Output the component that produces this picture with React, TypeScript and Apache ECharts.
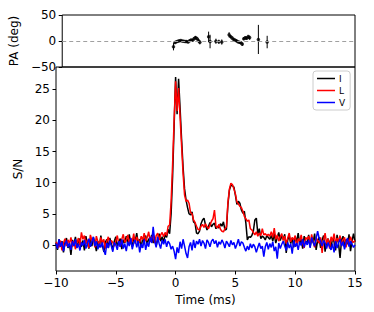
import React, { useEffect, useRef } from "react";
import * as echarts from "echarts";

// Time axis of the S/N profiles (ms)
const T0 = -10;
const DT = 0.125;

// Total intensity I (S/N), one row per ms
const intensityI = [
  0.3, -0.8, 0.9, -0.2, 0.6, -1.2, 0.4, 1.1,
  -0.5, 0.2, -1.6, 0.8, 0.1, 1.3, -0.4, 0.5,
  1.0, -0.3, 0.7, -0.9, 1.4, 0.2, -0.6, 0.9,
  -0.2, 1.2, 0.3, -1.0, 0.6, -0.4, 1.5, 0.0,
  -1.1, 0.4, 0.9, -0.5, 1.1, 0.2, -0.8, 0.6,
  1.3, -0.2, 0.5, 1.0, -0.7, 0.8, 0.3, 1.4,
  0.1, 1.7, 0.4, -0.3, 1.2, 0.6, 1.9, 0.2,
  0.9, -0.4, 1.1, 0.5, 1.5, 0.0, 1.0, 0.7,
  1.6, 0.3, 1.2, -0.2, 0.9, 1.8, 0.6, 1.3,
  0.4, 1.7, 1.2, 2.5, 1.8, 5.0, 11.0, 19.0,
  27.0, 21.0, 26.7, 22.0, 17.0, 12.5, 9.0, 7.2,
  6.0, 5.0, 4.8, 5.3, 3.7, 3.5, 1.9, 1.8,
  2.2, 3.4, 4.0, 4.3, 3.2, 2.4, 3.0, 3.6,
  2.9, 3.3, 3.5, 2.6, 3.0, 2.7, 3.4, 3.0,
  3.7, 2.4, 2.5, 6.5, 8.8, 9.6, 9.5, 9.3,
  8.0, 6.5, 7.0, 6.7, 5.6, 5.1, 5.4, 3.5,
  0.8, 1.3, 1.2, 1.5, 2.2, 4.0, 4.3, 1.8,
  2.6, 1.0, 1.4, 1.2, 0.8, 1.5, 1.2, 0.9,
  1.5, 0.6, 1.8, 0.3, 1.2, 2.0, 0.7, 1.4,
  0.9, 1.7, -1.3, 0.8, 1.5, 0.2, 1.1, -0.4,
  1.3, 0.5, 1.9, 0.1, 0.9, -0.6, 1.4, 0.6,
  0.2, 1.6, -0.3, 1.0, 0.4, 1.8, -0.8, 0.7,
  1.2, -0.5, 0.8, 1.5, -1.1, 0.6, 1.0, 0.3,
  -0.4, 1.1, 0.5, -0.9, 1.6, 0.2, -2.1, 0.8,
  1.4, -0.3, 0.9, 0.1, 1.7, -1.0, 0.6, 1.8,
  0.5,
];

// Linear polarisation L (S/N)
const linearL = [
  0.5, 0.1, -0.4, 0.7, -0.9, 0.3, 1.0, -0.2,
  0.8, 0.2, 1.2, -0.3, 0.6, -0.7, 0.4, 1.1,
  -0.1, 2.0, 0.9, 1.5, 0.2, 0.8, -0.5, 1.6,
  0.7, 1.0, -0.4, 1.4, 0.5, 0.0, 1.2, 0.3,
  0.9, -0.6, 0.6, 1.3, 0.1, 0.7, 0.4, -0.2,
  0.6, 1.5, 0.2, -0.3, 0.9, 1.7, 0.4, 0.8,
  1.6, 0.3, 1.1, 0.5, 1.8, 0.2, 1.3, 0.7,
  0.4, 1.4, 0.8, 1.9, 0.6, 1.2, 2.1, 0.5,
  1.1, 1.7, 0.3, 1.5, 1.9, 0.8, 1.6, 2.0,
  1.3, 2.0, 1.5, 3.0, 3.2, 7.0, 13.0, 20.0,
  26.3, 21.5, 25.2, 20.5, 16.0, 11.5, 8.0, 7.0,
  7.2, 6.7, 5.2, 5.0, 4.0, 3.6, 3.0, 2.5,
  2.4, 3.0, 3.3, 2.8, 3.4, 2.9, 2.6, 3.2,
  3.8, 4.2, 5.6, 3.0, 2.7, 3.3, 2.5, 2.2,
  2.1, 2.6, 2.9, 6.8, 9.0, 9.9, 9.7, 9.0,
  8.2, 6.9, 6.6, 6.2, 6.0, 5.4, 4.6, 4.2,
  3.8, 4.0, 2.6, 2.4, 2.0, 1.6, 2.1, 1.4,
  1.9, 1.5, 2.6, 1.6, 1.8, 1.5, 1.7, 1.4,
  2.1, 1.2, 2.7, 0.9, 1.6, 0.6, 1.3, 1.8,
  0.7, 1.4, 0.2, 1.1, 1.9, 0.5, 1.2, 0.8,
  1.5, -0.2, 1.0, 0.6, 1.6, 0.3, -0.5, 1.2,
  0.9, 1.4, 0.1, 1.7, 0.5, -0.4, 1.1, 0.7,
  0.3, 1.2, -1.3, 0.8, 1.9, 0.2, 1.0, -0.6,
  1.3, 0.6, 1.8, 0.2, 1.1, 0.5, 1.5, -0.2,
  0.8, 1.2, -0.4, 0.9, 0.3, 1.3, 0.6, 0.4,
  0.7,
];

// Circular polarisation V (S/N)
const circularV = [
  0.2, -0.6, 0.9, -0.3, 0.5, -1.0, 0.1, 0.7,
  -0.4, 0.3, -0.8, 0.6, -0.2, 0.9, -0.5, 0.2,
  -0.9, 0.4, -0.1, 0.8, -0.6, 0.3, 1.0, -0.3,
  0.5, 1.3, -0.2, 0.6, -0.7, 0.2, -0.4, 0.4,
  -0.9, -1.6, 0.3, -0.5, 0.7, -0.2, -1.1, 0.4,
  0.0, -0.8, 0.6, -0.3, 0.9, -0.6, 0.2, -1.0,
  0.5, -0.2, 1.1, -0.7, 0.3, 0.8, -0.4, 0.6,
  -1.2, 0.2, -0.5, 0.9, -0.8, 0.4, -0.3, 1.2,
  0.3, 2.9, 0.6, -0.4, 1.3, 0.2, -0.6, 0.8,
  0.1, 0.9, -0.3, 0.6, 0.2, -0.7, -0.2, -1.0,
  -2.3, -0.4, -1.3, 0.5, -0.6, 0.9, -0.2, -1.4,
  -2.1, -0.3, 0.4, -0.9, 0.8, -0.5, 0.6, 0.1,
  0.9, -0.2, 0.7, 0.3, -0.6, 0.8, 0.4, -0.3,
  0.6, 0.9, 0.2, 0.7, -0.4, 0.5, 0.1, 0.8,
  0.3, -0.5, 0.6, 0.2, -0.3, 0.7, 0.0, 0.4,
  -0.6, 0.1, 0.9, -0.2, 0.5, 0.3, -0.4, -1.0,
  -0.2, -0.8, 0.2, -0.5, 0.1, -0.3, -1.2, -0.4,
  0.3, -0.6, -0.2, -1.9, -0.3, 0.4, -0.7, 0.2,
  -0.4, 0.5, -1.0, -0.3, -2.2, 0.3, -0.6, 0.1,
  0.6, -0.2, -0.9, 0.4, -0.5, 0.2, -1.4, 0.7,
  -0.3, 0.3, -0.8, 0.5, -0.1, 0.9, -0.4, 0.6,
  0.0, 0.8, -0.5, 1.2, 0.4, -0.2, 1.0, 2.2,
  1.1, 0.5, -0.2, 0.7, 0.3, -0.6, 0.4, -0.3,
  -0.8, 0.2, -1.2, 0.6, -0.5, 0.3, 0.9, -0.2,
  0.5, -0.7, 0.4, 1.1, -0.3, 0.6, 0.1, -0.4,
  0.0,
];

// Polarisation position angle (deg) with errors
const paTimes = [
  -0.5, -0.375, -0.25, -0.125, 0, 0.125, 0.25, 0.375, 0.5, 0.625, 0.75, 0.875,
  1.0, 1.125, 1.25, 1.375, 1.5, 1.625, 1.75, 2.5, 2.625, 3.125, 3.375, 3.625,
  4.25, 4.375, 4.5, 4.625, 4.75, 4.875, 5.0, 5.125, 5.25, 5.375, 5.5, 5.625,
  5.75, 5.875, 6.0, 6.75, 7.5,
];
const paValues = [
  -11, -3, -1.5, -0.5, 0.5, 1.0, 0.2, -0.5, -1.0, -0.8, -2.0, 0.5,
  2.0, 1.5, 4.5, 6.5, 5.0, 1.0, -2.5, 8.0, -1.0, -0.5, -1.5, -2.0,
  12.0, 8.5, 6.0, 3.5, 2.0, 0.5, -1.5, -2.5, -3.5, -6.0, 4.5, 6.0,
  5.5, 8.0, 6.5, 3.0, -2.0,
];
const paErrors = [
  7, 3, 2, 1.5, 1, 1, 1, 1.5, 1.5, 2, 2, 2,
  2, 2.5, 3, 3, 3, 4, 4, 10, 13, 5, 4, 5,
  5, 3, 2, 2, 2, 2, 2, 2.5, 3, 3, 3, 3,
  3, 4, 4, 28, 12,
];

const timeTicks = [-10, -5, 0, 5, 10, 15];
const snTicks = [0, 5, 10, 15, 20, 25];
const paTicks = [-50, 0, 50];

const seriesNames = ["I", "L", "V"];
const seriesColors = ["#000000", "#ff0000", "#0000ff"];

const FONT = "DejaVu Sans";

const withTime = (vals: number[]) => vals.map((v, i) => [T0 + i * DT, v]);
const fmt = (v: number) => String(v).replace("-", "\u2212");

export default function App() {
  const ref = useRef<HTMLDivElement>(null);

  useEffect(() => {
    if (!ref.current) return;
    const chart = echarts.init(ref.current, undefined, { renderer: "svg" });

    const tickStyle = { show: true, inside: false, length: 3.5, lineStyle: { color: "#000", width: 1 } };
    const labelStyle = { color: "#000", fontFamily: FONT, fontSize: 12, formatter: fmt };
    const hiddenLine = { show: false, onZero: false };

    const profiles = [intensityI, linearL, circularV].map((vals, k) => ({
      name: seriesNames[k],
      type: "line",
      xAxisIndex: 1,
      yAxisIndex: 1,
      data: withTime(vals),
      showSymbol: false,
      symbol: "none",
      lineStyle: { color: seriesColors[k], width: 1.5 },
      itemStyle: { color: seriesColors[k] },
      z: 2 + k,
    }));

    chart.setOption({
      animation: false,
      grid: [
        { left: 56, top: 15, width: 299, height: 52, show: true, borderColor: "#000", borderWidth: 1 },
        { left: 56, top: 67, width: 299, height: 204, show: true, borderColor: "#000", borderWidth: 1 },
      ],
      legend: {
        data: seriesNames,
        orient: "vertical",
        left: 313,
        top: 71,
        icon: "rect",
        itemWidth: 18,
        itemHeight: 1.5,
        itemGap: 3,
        padding: [3, 5, 3, 4],
        backgroundColor: "#ffffff",
        borderColor: "#cccccc",
        borderWidth: 1,
        borderRadius: 3,
        textStyle: { fontFamily: FONT, fontSize: 9, color: "#000", padding: [0, 0, 0, -1] },
      },
      xAxis: [
        {
          gridIndex: 0, type: "value", min: -10, max: 15, interval: 5,
          axisLine: hiddenLine, axisTick: { show: false }, axisLabel: { show: false }, splitLine: { show: false },
        },
        {
          gridIndex: 1, type: "value", min: -10, max: 15, interval: 5,
          axisLine: hiddenLine, axisTick: tickStyle,
          axisLabel: { ...labelStyle, margin: 6, customValues: timeTicks },
          splitLine: { show: false },
          name: "Time (ms)", nameLocation: "middle", nameGap: 18,
          nameTextStyle: { fontFamily: FONT, fontSize: 12, color: "#000" },
        },
      ],
      yAxis: [
        {
          gridIndex: 0, type: "value", min: -50, max: 50, interval: 50,
          axisLine: hiddenLine, axisTick: tickStyle,
          axisLabel: { ...labelStyle, margin: 6, customValues: paTicks },
          splitLine: { show: false },
          name: "PA (deg)", nameLocation: "middle", nameGap: 34, nameRotate: 90,
          nameTextStyle: { fontFamily: FONT, fontSize: 12, color: "#000" },
        },
        {
          gridIndex: 1, type: "value", min: -4.2, max: 28.6,
          axisLine: hiddenLine,
          axisTick: { ...tickStyle, customValues: snTicks },
          axisLabel: { ...labelStyle, margin: 6, customValues: snTicks },
          splitLine: { show: false },
          name: "S/N", nameLocation: "middle", nameGap: 25, nameRotate: 90,
          nameTextStyle: { fontFamily: FONT, fontSize: 12, color: "#000" },
        },
      ],
      series: [
        ...profiles,
        {
          type: "custom",
          xAxisIndex: 0,
          yAxisIndex: 0,
          data: paTimes.map((t, i) => [t, paValues[i] - paErrors[i], paValues[i] + paErrors[i]]),
          encode: { x: 0, y: [1, 2] },
          renderItem: (_params: any, api: any) => {
            const lo = api.coord([api.value(0), api.value(1)]);
            const hi = api.coord([api.value(0), api.value(2)]);
            return {
              type: "line",
              shape: { x1: lo[0], y1: lo[1], x2: hi[0], y2: hi[1] },
              style: { stroke: "#000", lineWidth: 1 },
            };
          },
          z: 3,
        },
        {
          type: "scatter",
          xAxisIndex: 0,
          yAxisIndex: 0,
          data: paTimes.map((t, i) => [t, paValues[i]]),
          symbolSize: 3.5,
          itemStyle: { color: "#000" },
          z: 4,
          markLine: {
            silent: true,
            symbol: ["none", "none"],
            label: { show: false },
            lineStyle: { color: "#a0a0a0", type: [4, 3], width: 1 },
            data: [{ yAxis: 0 }],
          },
        },
      ],
    });

    return () => chart.dispose();
  }, []);

  return (
    <div
      ref={ref}
      style={{ position: "absolute", left: 0, top: 0, width: 374, height: 312, background: "#fff" }}
    />
  );
}
